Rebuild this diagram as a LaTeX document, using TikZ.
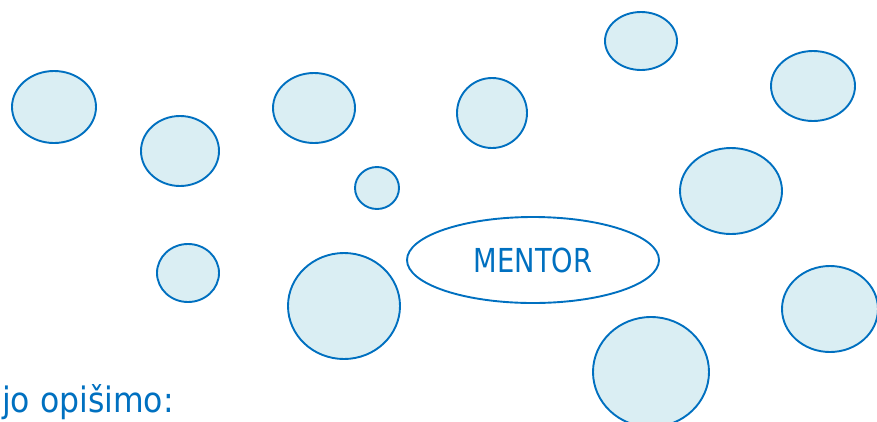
\documentclass[tikz,border=0pt]{standalone}
\usepackage{fontspec}
\setmainfont{DejaVu Sans Condensed}
\usetikzlibrary{shapes.geometric}
\definecolor{bblue}{HTML}{0070C0}
\definecolor{bfill}{HTML}{DAEEF3}
\tikzset{
  bubble/.style={ellipse, draw=bblue, fill=bfill, line width=1.9pt, inner sep=0pt},
  mentorbox/.style={ellipse, draw=bblue, fill=white, line width=1.9pt, inner sep=0pt, text=bblue,
    font=\fontsize{33}{36}\selectfont},
  captext/.style={text=bblue, font=\fontsize{35}{40}\selectfont, inner sep=0pt}
}
\begin{document}
\begin{tikzpicture}[x=1pt,y=-1pt]
\useasboundingbox (0,0) rectangle (877,421);
\clip (0,0) rectangle (877,421);
\node[bubble, minimum width=84pt, minimum height=72pt] (b1) at (54,107) {};
\node[bubble, minimum width=78pt, minimum height=70pt] (b2) at (180,151) {};
\node[bubble, minimum width=82pt, minimum height=70pt] (b3) at (314,108) {};
\node[bubble, minimum width=44pt, minimum height=42pt] (b4) at (377,188) {};
\node[bubble, minimum width=62pt, minimum height=58pt] (b5) at (188,273) {};
\node[bubble, minimum width=112pt, minimum height=106pt] (b6) at (344,306) {};
\node[bubble, minimum width=70pt, minimum height=70pt] (b7) at (492,113) {};
\node[bubble, minimum width=72pt, minimum height=58pt] (b8) at (641,41) {};
\node[bubble, minimum width=84pt, minimum height=70pt] (b9) at (813,86) {};
\node[bubble, minimum width=102pt, minimum height=86pt] (b10) at (731,191) {};
\node[bubble, minimum width=116pt, minimum height=110pt] (b12) at (651,372) {};
\node[bubble, minimum width=96pt, minimum height=86pt] (b13) at (830,309) {};
\node[mentorbox, minimum width=252pt, minimum height=86pt] (mentor) at (533,260) {\scalebox{0.92}[1]{MENTOR}};
\node[captext, anchor=base west] (cap) at (2,412) {jo opišimo:};
\end{tikzpicture}
\end{document}
